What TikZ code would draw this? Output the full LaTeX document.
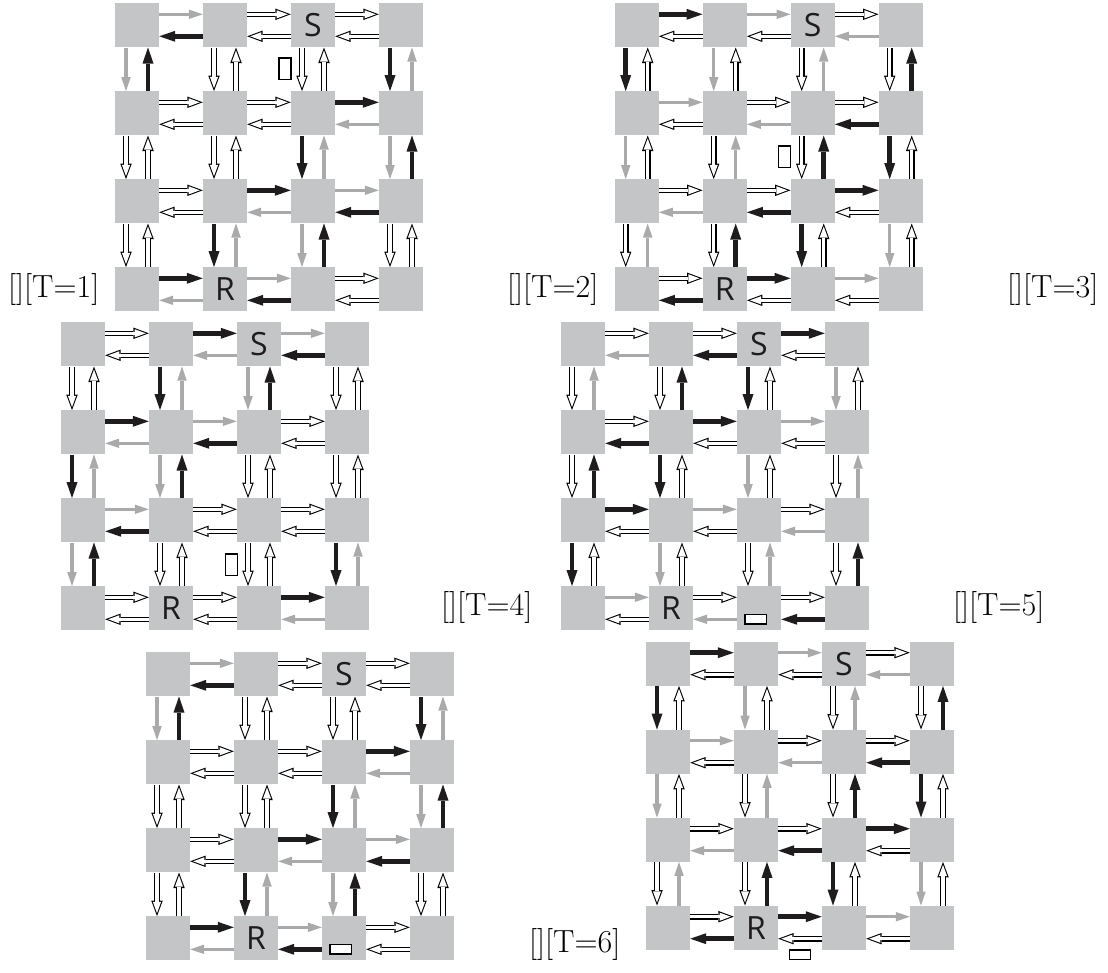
\documentclass[tikz,border=0pt]{standalone}
\usepackage{fontspec}
\newfontfamily\sflab{Open Sans}
\usetikzlibrary{arrows.meta}
\definecolor{sqgray}{RGB}{196,197,199}
\definecolor{arrgray}{RGB}{170,170,170}
\definecolor{arrblack}{RGB}{30,28,29}
\tikzset{
  sq/.style={rectangle, fill=sqgray, draw=none, minimum size=44pt, inner sep=0pt},
  letter/.style={inner sep=0pt, font=\sflab\fontsize{32}{32}\selectfont, text=arrblack},
  tlab/.style={inner sep=0pt, anchor=west, font=\fontsize{32}{32}\selectfont},
  vrect/.style={rectangle, draw=black, fill=white, line width=1.4pt, minimum width=12pt, minimum height=21.5pt, inner sep=0pt},
  hrect/.style={rectangle, draw=black, fill=white, line width=1.4pt, minimum width=21.5pt, minimum height=9.8pt, inner sep=0pt},
  arrG/.style={draw=arrgray, line width=3.2pt, -{Triangle[length=14pt,width=9.5pt,line width=0pt]}},
  arrB/.style={draw=arrblack, line width=4.6pt, -{Triangle[length=16pt,width=11pt,line width=0pt]}},
  arrW/.style={draw=black, line width=5.6pt, -{Triangle[length=15.5pt,width=11.5pt,line width=0pt]},
    postaction={draw=white, line width=3.4pt, shorten >=3pt, -{Triangle[length=11.2pt,width=8.2pt,line width=0pt]}}},
}
% #1 name, #2 x0, #3 y0, #4 list macro a/b/P/Q
\newcommand{\drawgrid}[4]{%
  \foreach \r in {0,...,3}{\foreach \c in {0,...,3}{%
    \node[sq] (#1-\r-\c) at ({#2+22+88*\c},{#3+22+88*\r}) {};}}
  \node[letter] (#1-S) at (#1-0-2) {S};
  \node[letter] (#1-R) at (#1-3-1) {R};
  \foreach \a/\b/\p/\q in #4{%
    \pgfmathtruncatemacro\bn{\b+1}%
    \draw[arr\p] ([yshift=11pt]#1-\a-\b.east) -- ([yshift=11pt]#1-\a-\bn.west);
    \draw[arr\q] ([yshift=-11pt]#1-\a-\bn.west) -- ([yshift=-11pt]#1-\a-\b.east);
    \draw[arr\p] ([xshift=-11pt]#1-\b-\a.south) -- ([xshift=-11pt]#1-\bn-\a.north);
    \draw[arr\q] ([xshift=11pt]#1-\bn-\a.north) -- ([xshift=11pt]#1-\b-\a.south);
  }%
}
\def\listA{0/0/G/B, 0/1/W/W, 0/2/W/W, 1/0/W/W, 1/1/W/W, 1/2/B/G, 2/0/W/W, 2/1/B/G, 2/2/G/B, 3/0/B/G, 3/1/G/B, 3/2/W/W}
\def\listB{0/0/B/W, 0/1/G/W, 0/2/W/G, 1/0/G/W, 1/1/W/G, 1/2/W/B, 2/0/W/G, 2/1/W/B, 2/2/B/W, 3/0/W/B, 3/1/B/W, 3/2/G/W}
\def\listC{0/0/W/W, 0/1/B/G, 0/2/G/B, 1/0/B/G, 1/1/G/B, 1/2/W/W, 2/0/G/B, 2/1/W/W, 2/2/W/W, 3/0/W/W, 3/1/W/W, 3/2/B/G}
\def\listD{0/0/W/G, 0/1/W/B, 0/2/B/W, 1/0/W/B, 1/1/B/W, 1/2/G/W, 2/0/B/W, 2/1/G/W, 2/2/W/G, 3/0/G/W, 3/1/W/G, 3/2/W/B}
\begin{document}
\begin{tikzpicture}[x=1pt, y=-1pt]
\useasboundingbox[fill=white] (0,0) rectangle (1108,972);
\drawgrid{ga}{115}{3.3}{\listA}
\drawgrid{gb}{614.7}{3.3}{\listB}
\drawgrid{gc}{61}{322.3}{\listC}
\drawgrid{gd}{561}{322.3}{\listD}
\drawgrid{ge}{146}{652.3}{\listA}
\drawgrid{gf}{646}{641.7}{\listB}
% small rectangles
\node[vrect] (ma) at (285,68.7) {};
\node[vrect] (mb) at (784.7,156.7) {};
\node[vrect] (mc) at (231.3,564.7) {};
\node[hrect] (md) at (755.7,619.1) {};
\node[hrect] (me) at (340.7,949.1) {};
\node[hrect] (mf) at (800,954.7) {};
% labels
\node[tlab] (ta) at (8,289) {[][T=1]};
\node[tlab] (tb) at (507,289) {[][T=2]};
\node[tlab] (tc) at (1007,289) {[][T=3]};
\node[tlab] (td) at (441,607) {[][T=4]};
\node[tlab] (te) at (953,607) {[][T=5]};
\node[tlab] (tf) at (529,944) {[][T=6]};
\end{tikzpicture}
\end{document}
